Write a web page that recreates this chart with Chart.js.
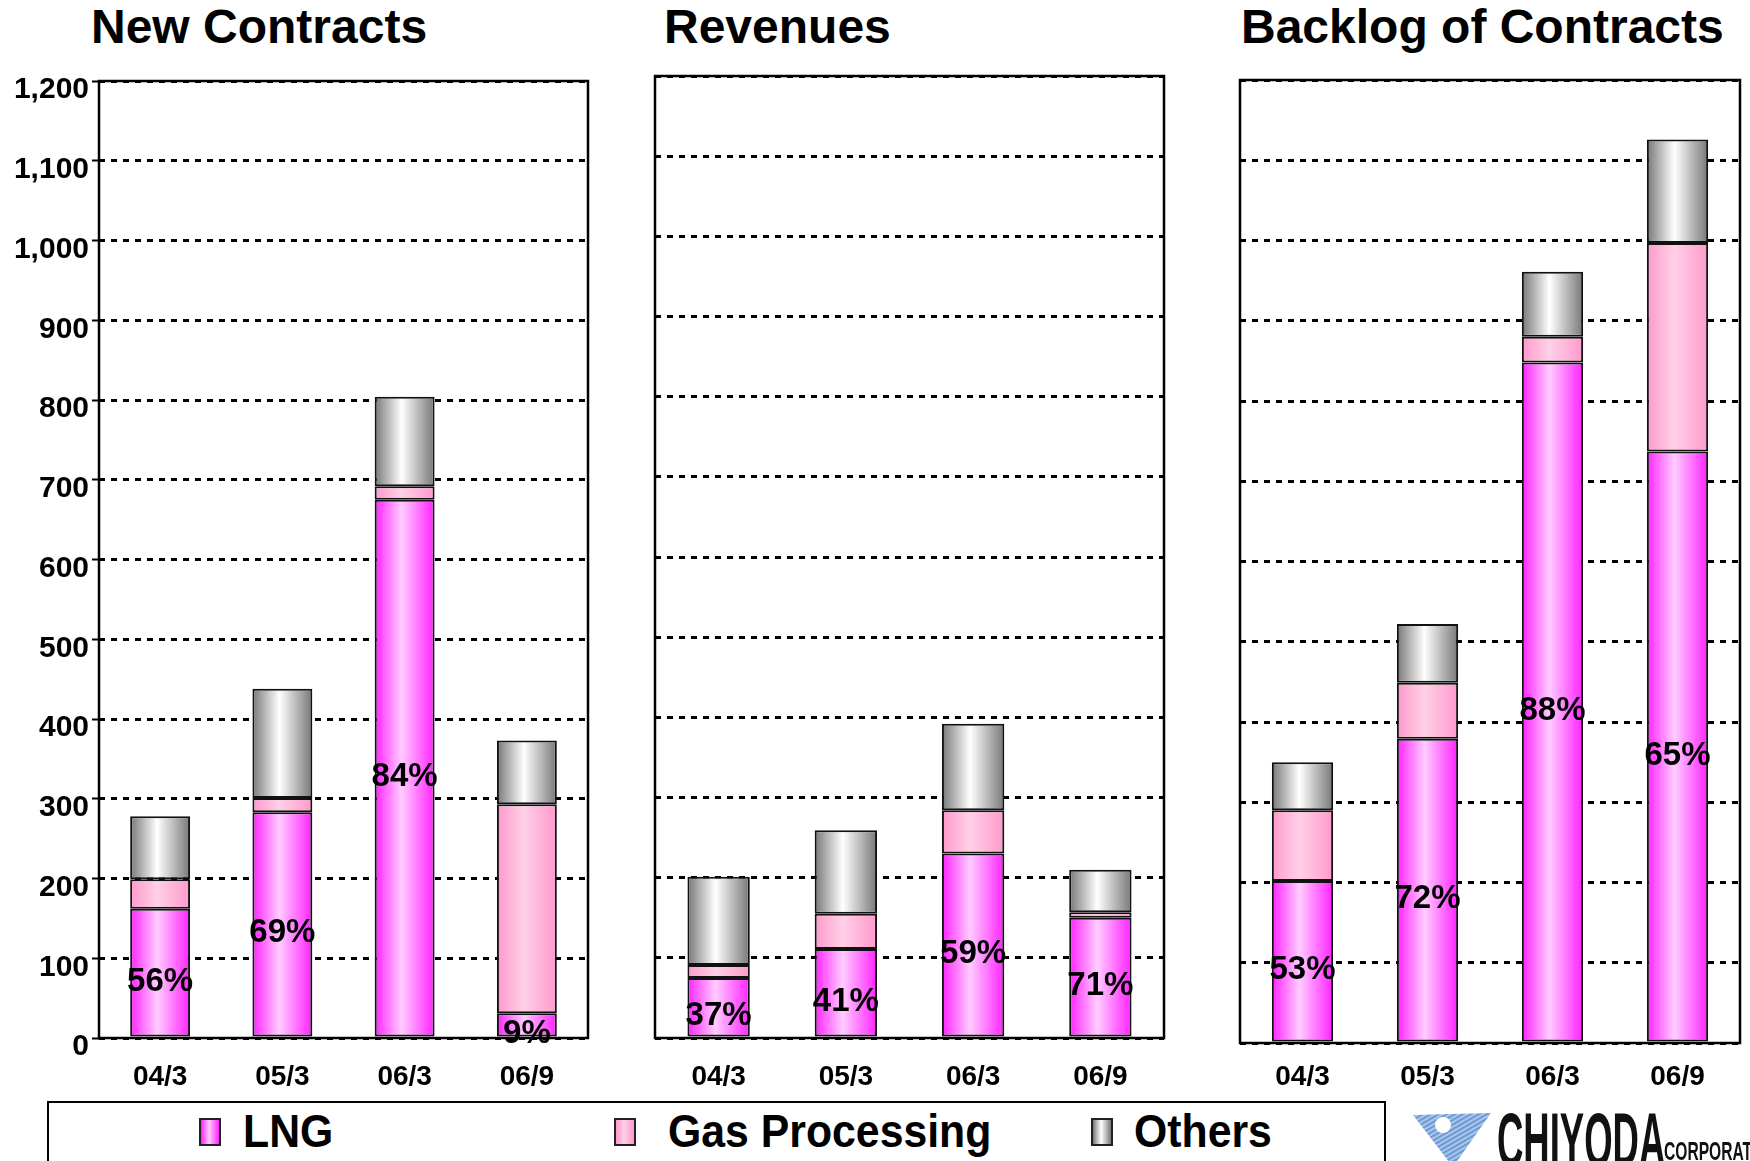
<!DOCTYPE html>
<html>
<head>
<meta charset="utf-8">
<script src="https://cdn.jsdelivr.net/npm/chart.js@4"></script>
<style>
    html, body { margin: 0; padding: 0; background: #fff; }
    body { width: 1750px; height: 1161px; overflow: hidden; position: relative; font-family: "Liberation Sans", Arial, sans-serif; }
    .panel { position: absolute; top: 0; height: 1100px; }
    .title { position: absolute; top: 0; font-weight: bold; font-size: 48px; line-height: 54px; color: #000; white-space: nowrap; }
    .legend-box { position: absolute; left: 47px; top: 1101px; width: 1335px; height: 90px; border: 2px solid #000; }
    .legend-item { position: absolute; top: 3px; font-weight: bold; font-size: 46px; line-height: 50px; white-space: nowrap; transform: scaleX(0.93); transform-origin: left top; }
    .swatch { position: absolute; top: 15px; width: 18px; height: 24px; border: 2px solid #222; }
    .logo-text { position: absolute; font-weight: bold; color: #111; white-space: nowrap; transform-origin: left top; }
</style>
</head>
<body>

<div class="title" style="left:91px;">New Contracts</div>
<div class="title" style="left:664px;">Revenues</div>
<div class="title" style="left:1241px;">Backlog of Contracts</div>

<div class="panel" style="left:0; width:600px;"><canvas id="chartNew"></canvas></div>
<div class="panel" style="left:620px; width:560px;"><canvas id="chartRev"></canvas></div>
<div class="panel" style="left:1200px; width:550px;"><canvas id="chartBlg"></canvas></div>

<div class="legend-box">
    <div class="swatch" style="left:150px; background:linear-gradient(90deg,#ff22ff,#ffccff 45%,#ff22ff);"></div>
    <div class="legend-item" style="left:194px;">LNG</div>
    <div class="swatch" style="left:565px; background:linear-gradient(90deg,#ff99cc,#ffd0e6 45%,#ff99cc);"></div>
    <div class="legend-item" style="left:619px;">Gas Processing</div>
    <div class="swatch" style="left:1042px; background:linear-gradient(90deg,#777,#fff 45%,#777);"></div>
    <div class="legend-item" style="left:1085px;">Others</div>
</div>

<!-- logo -->
<svg style="position:absolute; left:1405px; top:1105px;" width="95" height="60" viewBox="0 0 95 60">
    <defs>
        <pattern id="stripes" width="4" height="4" patternUnits="userSpaceOnUse" patternTransform="rotate(60)">
            <rect width="4" height="4" fill="#a9c6ea"/>
            <rect width="1.6" height="4" fill="#5f8fd0"/>
        </pattern>
    </defs>
    <polygon points="8,10 86,8 48,62" fill="url(#stripes)"/>
    <circle cx="38" cy="20" r="8" fill="#fff"/>
</svg>
<div class="logo-text" style="left:1497px; top:1096px; font-size:76px; transform:scaleX(0.48);">CHIYODA</div>
<div class="logo-text" style="left:1664px; top:1136px; font-size:26px; transform:scaleX(0.6);">CORPORATION</div>

<script>
// --- Data ---
const periods = ['04/3', '05/3', '06/3', '06/9'];
const yTickValues = [0, 100, 200, 300, 400, 500, 600, 700, 800, 900, 1000, 1100, 1200];

const newLng = [162, 283, 675, 31];
const newGas = [37, 18, 17, 262];
const newOthers = [79, 137, 112, 80];
const newPct = ['56%', '69%', '84%', '9%'];

const revLng = [75, 111, 230, 150];
const revGas = [16, 44, 54, 7];
const revOthers = [110, 104, 108, 53];
const revPct = ['37%', '41%', '59%', '71%'];

const blgLng = [202, 379, 848, 737];
const blgGas = [88, 70, 32, 260];
const blgOthers = [60, 73, 81, 129];
const blgPct = ['53%', '72%', '88%', '65%'];

// --- Style ---
const FONT = '"Liberation Sans", Arial, sans-serif';
const BAR_FRACTION = 0.49;
Chart.defaults.font.family = FONT;
Chart.defaults.font.weight = 'bold';
Chart.defaults.color = '#000';

// horizontal "cylinder" shading for each bar segment
function barGradient(edge, mid) {
    return (c) => {
        const chart = c.chart;
        if (!chart.chartArea) return mid;
        const xs = chart.scales.x;
        const x = xs.getPixelForValue(c.dataIndex);
        const w = xs.width / chart.data.labels.length * BAR_FRACTION;
        const g = chart.ctx.createLinearGradient(x - w / 2, 0, x + w / 2, 0);
        g.addColorStop(0, edge);
        g.addColorStop(0.45, mid);
        g.addColorStop(1, edge);
        return g;
    };
}

// plot frame + percentage labels inside LNG segments
const framePlugin = {
    id: 'frame',
    afterDatasetsDraw(chart) {
        const ctx = chart.ctx;
        const pct = chart.options.plugins.frame.pct;
        const meta = chart.getDatasetMeta(0);
        ctx.save();
        ctx.font = 'bold 33px ' + FONT;
        ctx.fillStyle = '#000';
        ctx.textAlign = 'center';
        ctx.textBaseline = 'middle';
        meta.data.forEach((el, i) => {
            ctx.fillText(pct[i], el.x, (el.y + el.base) / 2 + 9);
        });
        ctx.restore();
    },
    afterDraw(chart) {
        const a = chart.chartArea;
        const ctx = chart.ctx;
        ctx.save();
        ctx.strokeStyle = '#000';
        ctx.lineWidth = 2.5;
        ctx.strokeRect(a.left, a.top, a.right - a.left, a.bottom - a.top);
        ctx.restore();
    }
};

function makeChart(id, lng, gas, others, pct, opt) {
    const ctx = document.getElementById(id).getContext('2d');
    const seg = (label, data, edge, mid) => ({
        label, data,
        backgroundColor: barGradient(edge, mid),
        borderColor: '#111',
        borderWidth: 2,
        borderSkipped: false,
        barPercentage: BAR_FRACTION,
        categoryPercentage: 1.0
    });
    return new Chart(ctx, {
        type: 'bar',
        data: {
            labels: periods,
            datasets: [
                seg('LNG', lng, '#ff22ff', '#ffccff'),
                seg('Gas Processing', gas, '#ff99cc', '#ffd0e6'),
                seg('Others', others, '#777777', '#ffffff')
            ]
        },
        options: {
            responsive: true,
            maintainAspectRatio: false,
            animation: false,
            layout: { padding: { top: opt.top, right: opt.right, left: opt.left, bottom: 0 } },
            plugins: {
                legend: { display: false },
                tooltip: { enabled: false },
                frame: { pct }
            },
            scales: {
                x: {
                    stacked: true,
                    grid: { display: false },
                    border: { display: false },
                    ticks: { font: { size: 28, weight: 'bold' }, padding: opt.xPad, color: '#000' },
                    afterFit: (s) => { s.height = opt.xHeight; }
                },
                y: {
                    stacked: true,
                    min: 0,
                    max: 1200,
                    afterBuildTicks: (s) => { s.ticks = yTickValues.map(v => ({ value: v })); },
                    grid: {
                        color: '#000',
                        lineWidth: 3,
                        drawTicks: opt.yLabels,
                        tickLength: 7,
                        tickColor: '#000',
                        tickWidth: 2,
                        tickBorderDash: []
                    },
                    border: { display: false, dash: [6, 6] },
                    ticks: {
                        display: opt.yLabels,
                        font: { size: 30, weight: 'bold' },
                        padding: 3,
                        labelOffset: 9,
                        color: '#000',
                        callback: (v) => v.toLocaleString('en-US')
                    },
                    afterFit: (s) => { s.width = opt.yWidth; }
                }
            }
        },
        plugins: [framePlugin]
    });
}

makeChart('chartNew', newLng, newGas, newOthers, newPct,
    { top: 81, right: 12, left: 0, yWidth: 99, yLabels: true, xHeight: 62, xPad: 14 });
makeChart('chartRev', revLng, revGas, revOthers, revPct,
    { top: 76, right: 16, left: 35, yWidth: 0, yLabels: false, xHeight: 62, xPad: 14 });
makeChart('chartBlg', blgLng, blgGas, blgOthers, blgPct,
    { top: 80, right: 10, left: 40, yWidth: 0, yLabels: false, xHeight: 57, xPad: 9 });
</script>
</body>
</html>
